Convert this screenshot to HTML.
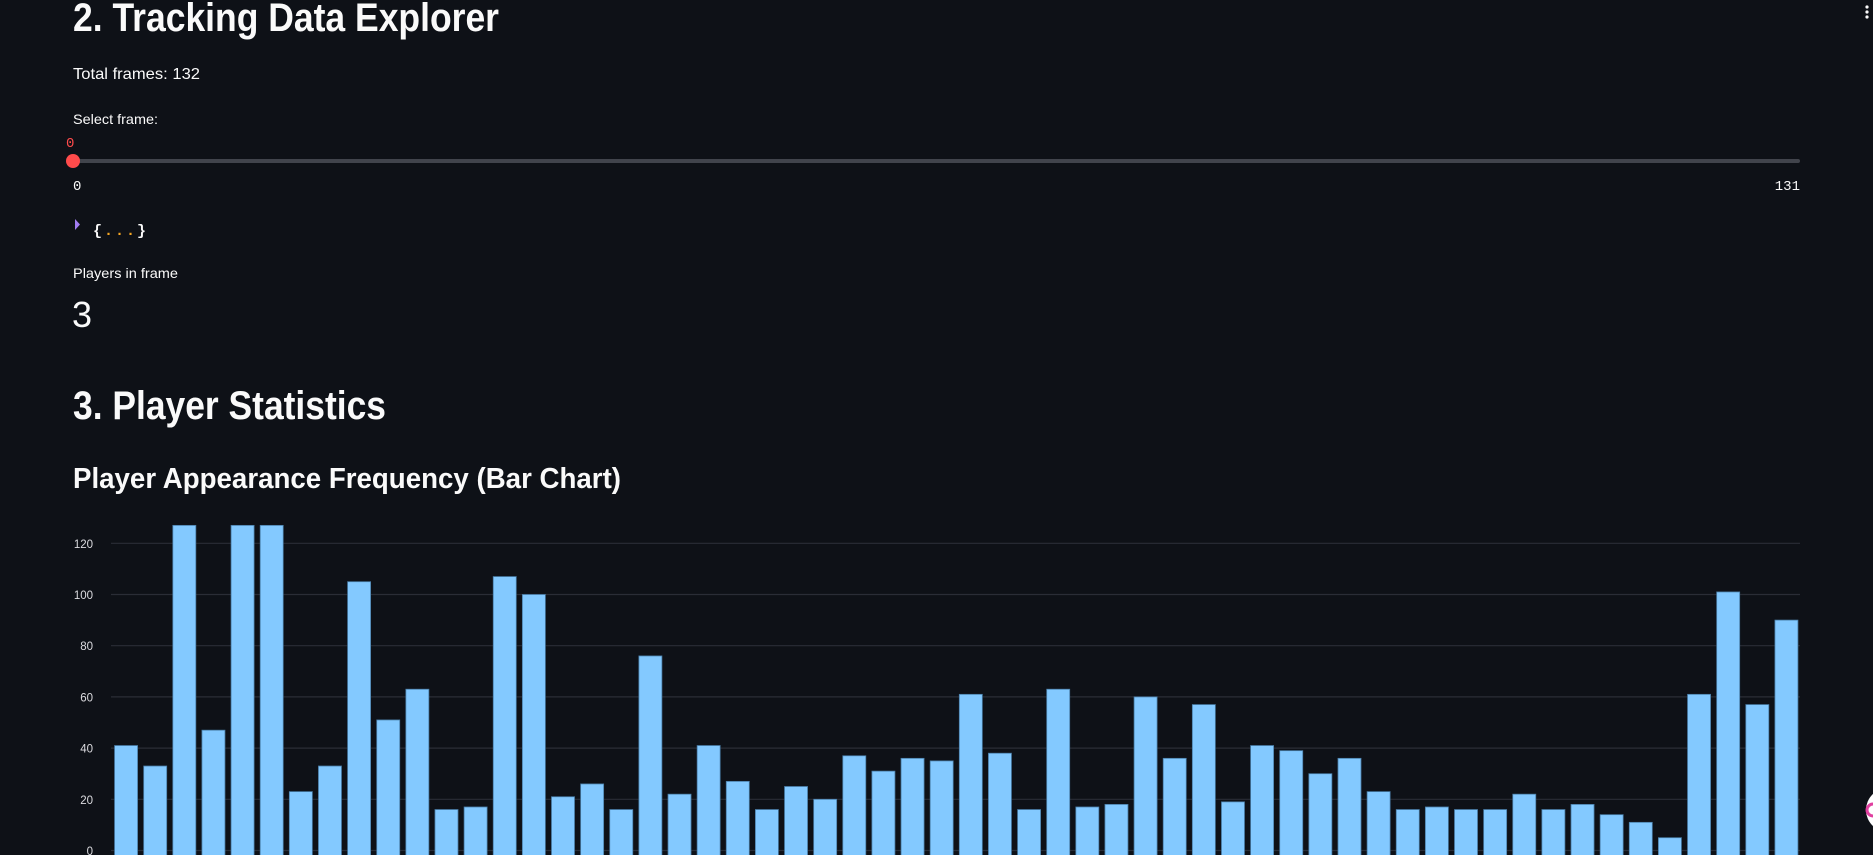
<!DOCTYPE html>
<html><head><meta charset="utf-8"><style>
html,body{margin:0;padding:0;background:#0e1117;width:1873px;height:855px;overflow:hidden}
svg{display:block}
</style></head><body>
<svg id="page" width="1873" height="855" viewBox="0 0 1873 855" font-family="'Liberation Sans', sans-serif">
<rect x="0" y="0" width="1873" height="855" fill="#0e1117"/>
<text x="73" y="31" font-size="40" font-weight="bold" fill="#fafafa" textLength="426" lengthAdjust="spacingAndGlyphs">2. Tracking Data Explorer</text>
<text x="73" y="79" font-size="16" fill="#fafafa" textLength="127" lengthAdjust="spacingAndGlyphs">Total frames: 132</text>
<text x="73" y="124" font-size="14" fill="#fafafa" textLength="85" lengthAdjust="spacingAndGlyphs">Select frame:</text>
<text x="66" y="147" font-size="14" fill="#ff4b4b" font-family="'Liberation Mono', monospace">0</text>
<rect x="73" y="159" width="1727" height="4" rx="2" fill="#41444c"/>
<circle cx="73" cy="161" r="7" fill="#ff4b4b"/>
<text x="73" y="190" font-size="14" fill="#fafafa" font-family="'Liberation Mono', monospace">0</text>
<text x="1800" y="190" font-size="14" fill="#fafafa" text-anchor="end" font-family="'Liberation Mono', monospace">131</text>
<polygon points="75,219 80,224.5 75,230" fill="#a27cf2"/>
<text x="93" y="235" font-size="15" font-weight="bold" font-family="'Liberation Mono', monospace" textLength="53" lengthAdjust="spacing"><tspan fill="#fafafa">{</tspan><tspan fill="#f5a623">...</tspan><tspan fill="#fafafa">}</tspan></text>
<text x="73" y="278" font-size="14" fill="#fafafa" textLength="105" lengthAdjust="spacingAndGlyphs">Players in frame</text>
<text x="72" y="327" font-size="36" fill="#fafafa">3</text>
<text x="73" y="419" font-size="40" font-weight="bold" fill="#fafafa" textLength="313" lengthAdjust="spacingAndGlyphs">3. Player Statistics</text>
<text x="73" y="488" font-size="29" font-weight="bold" fill="#fafafa" textLength="548" lengthAdjust="spacingAndGlyphs">Player Appearance Frequency (Bar Chart)</text>
<g id="chart"></g>
<g fill="#fafafa">
<circle cx="1867" cy="7" r="1.6"/><circle cx="1867" cy="12" r="1.6"/><circle cx="1867" cy="17" r="1.6"/>
</g>
<circle cx="1888" cy="810" r="22" fill="#ffffff"/>
<circle cx="1873" cy="810" r="6" fill="none" stroke="#e040a0" stroke-width="3"/>
</svg>
<script>
const values = [41,33,127,47,127,127,23,33,105,51,63,16,17,107,100,21,26,16,76,22,41,27,16,25,20,37,31,36,35,61,38,16,63,17,18,60,36,57,19,41,39,30,36,23,16,17,16,16,22,16,18,14,11,5,61,101,57,90];
const yTicks = [0,20,40,60,80,100,120];
const NS = 'http://www.w3.org/2000/svg';
const g = document.getElementById('chart');
const x0 = 111.5, x1 = 1801;
const band = (x1 - x0) / values.length;
const barW = band * 0.79;
function yScale(v){ return 850.5 - v * 2.56; }
function xScale(i){ return x0 + i * band + (band - barW) / 2; }
yTicks.forEach(t => {
  const ln = document.createElementNS(NS,'line');
  ln.setAttribute('x1', 111); ln.setAttribute('x2', 1800);
  ln.setAttribute('y1', yScale(t)); ln.setAttribute('y2', yScale(t));
  ln.setAttribute('stroke', '#2a2d36'); ln.setAttribute('stroke-width', '1.2');
  
  
  g.appendChild(ln);
  const tx = document.createElementNS(NS,'text');
  tx.setAttribute('x', 93); tx.setAttribute('y', yScale(t) + 4.5);
  tx.setAttribute('text-anchor', 'end'); tx.setAttribute('font-size', '11.5');
  tx.setAttribute('fill', '#dcdce0');
  tx.textContent = t;
  
  
  g.appendChild(tx);
});
values.forEach((v, i) => {
  const r = document.createElementNS(NS,'rect');
  r.setAttribute('x', xScale(i)); r.setAttribute('width', barW);
  r.setAttribute('y', yScale(v)); r.setAttribute('height', yScale(0) - yScale(v) + 10);
  r.setAttribute('fill', '#83c9ff'); r.setAttribute('stroke', '#4a7ea8'); r.setAttribute('stroke-width', '0.8');
  
  
  g.appendChild(r);
});
</script>
</body></html>
